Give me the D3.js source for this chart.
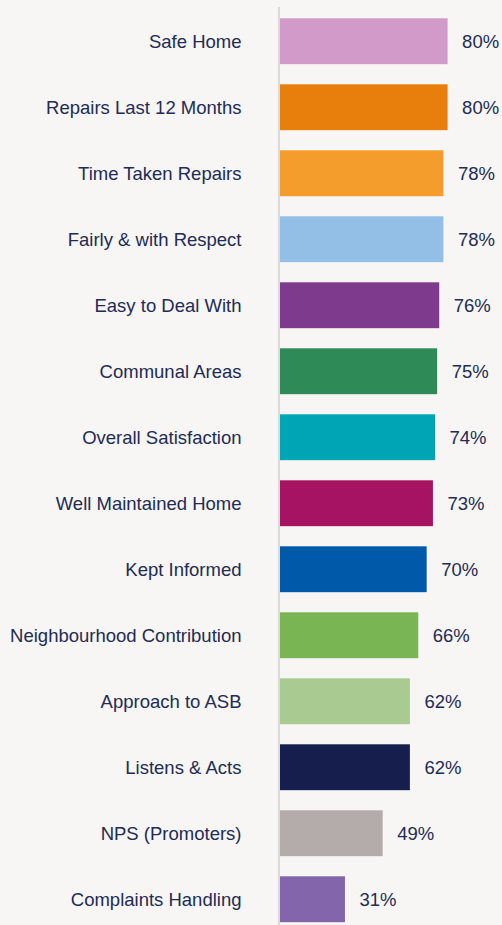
<!DOCTYPE html>
<html>
<head>
<meta charset="utf-8">
<script src="https://cdn.jsdelivr.net/npm/d3@7"></script>
<style>
  html, body { margin: 0; padding: 0; background: #f7f6f4; }
  svg { display: block; }
  text { font-family: "Liberation Sans", Arial, sans-serif; font-size: 18.5px; fill: #212b55; }
</style>
</head>
<body>
<script>
// chart data, top to bottom
var categories = [
  "Safe Home", "Repairs Last 12 Months", "Time Taken Repairs", "Fairly & with Respect",
  "Easy to Deal With", "Communal Areas", "Overall Satisfaction", "Well Maintained Home",
  "Kept Informed", "Neighbourhood Contribution", "Approach to ASB", "Listens & Acts",
  "NPS (Promoters)", "Complaints Handling"
];
var values = [80, 80, 78, 78, 76, 75, 74, 73, 70, 66, 62, 62, 49, 31];
var colors = [
  "#d19ac8", "#e87e0c", "#f49c2c", "#93bfe6", "#7e3b8e", "#2e8b58", "#00a5b5",
  "#a71363", "#015aa9", "#7ab553", "#a9ca90", "#161e4e", "#b4acaa", "#8265aa"
];

var width = 502, height = 925;
var margin = {top: 7, left: 280};
var step = 66, pad = 0.305;

var data = categories.map(function(c, i) {
  return {name: c, value: values[i], color: colors[i]};
});

var svg = d3.select("body").append("svg")
  .attr("width", width)
  .attr("height", height);

// scales
var x = d3.scaleLinear().domain([0, 100]).range([margin.left, margin.left + 209.5]);
var y0 = 18.3 - step * pad / 2;
var y = d3.scaleBand()
  .domain(categories)
  .range([y0, y0 + step * categories.length])
  .paddingInner(pad)
  .paddingOuter(pad / 2);

// bars
svg.selectAll("rect.bar")
  .data(data)
  .enter().append("rect")
  .attr("class", "bar")
  .attr("x", x(0))
  .attr("y", function(d) { return y(d.name); })
  .attr("width", function(d) { return x(d.value) - x(0); })
  .attr("height", y.bandwidth())
  .attr("fill", function(d) { return d.color; });

// category labels
svg.selectAll("text.cat")
  .data(data)
  .enter().append("text")
  .attr("class", "cat")
  .attr("x", 241.5)
  .attr("y", function(d) { return y(d.name) + y.bandwidth() / 2; })
  .attr("dy", "0.35em")
  .attr("text-anchor", "end")
  .text(function(d) { return d.name; });

// value labels
svg.selectAll("text.val")
  .data(data)
  .enter().append("text")
  .attr("class", "val")
  .attr("x", function(d) { return x(d.value) + 14.5; })
  .attr("y", function(d) { return y(d.name) + y.bandwidth() / 2; })
  .attr("dy", "0.35em")
  .text(function(d) { return d.value + "%"; });

// axis line
svg.append("line")
  .attr("x1", margin.left - 1).attr("x2", margin.left - 1)
  .attr("y1", margin.top).attr("y2", height)
  .attr("stroke", "#d9d9d9")
  .attr("stroke-width", 2);
</script>
</body>
</html>
